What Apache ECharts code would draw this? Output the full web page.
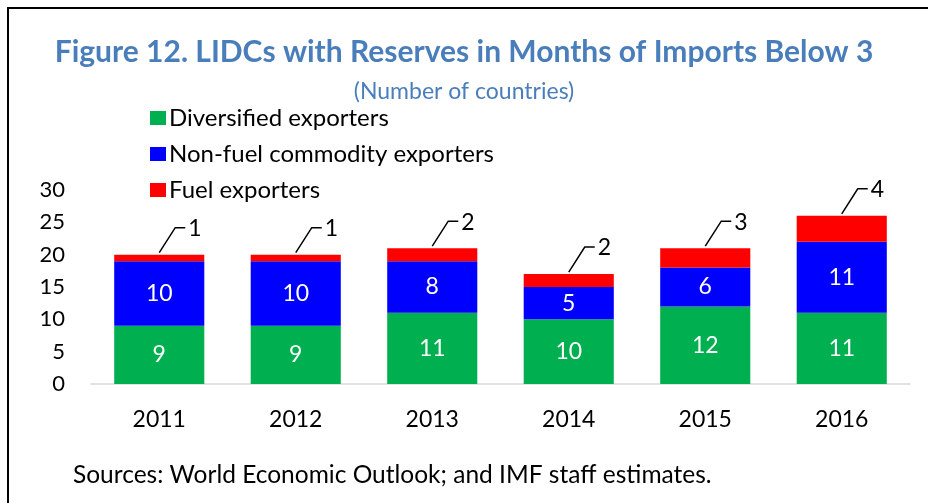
<!DOCTYPE html>
<html>
<head>
<meta charset="utf-8">
<script src="https://cdn.jsdelivr.net/npm/echarts@6/dist/echarts.min.js"></script>
<style>
  html, body { margin: 0; padding: 0; background: #fff; }
  #chart { width: 928px; height: 503px; }
</style>
</head>
<body>
<div id="chart"></div>
<script>
// data
var years = ["2011", "2012", "2013", "2014", "2015", "2016"];
var diversified = [9, 9, 11, 10, 12, 11];
var nonFuel = [10, 10, 8, 5, 6, 11];
var fuel = [1, 1, 2, 2, 3, 4];
var yTicks = [0, 5, 10, 15, 20, 25, 30];

(function () {
  var myChart = echarts.init(document.getElementById('chart'));
  var font = 'Lato, "Noto Sans", sans-serif';
  var titleBlue = '#4A7EBB';

  // top of each stacked bar, used to place the fuel labels
  var fuelLabelData = years.map(function (y, i) {
    return [i, diversified[i] + nonFuel[i] + fuel[i], fuel[i]];
  });

  var option = {
    backgroundColor: '#fff',
    animation: false,
    title: [
      {
        text: 'Figure 12. LIDCs with Reserves in Months of Imports Below 3',
        left: 'center',
        top: 32,
        textStyle: { color: titleBlue, fontFamily: font, fontSize: 30, fontWeight: 'bold' }
      },
      {
        text: '(Number of countries)',
        left: 'center',
        top: 75,
        textStyle: { color: titleBlue, fontFamily: font, fontSize: 23, fontWeight: 'normal' }
      },
      {
        text: 'Sources: World Economic Outlook; and IMF staff estimates.',
        left: 68,
        top: 458,
        textStyle: { color: '#000', fontFamily: font, fontSize: 24.5, fontWeight: 'normal' }
      }
    ],
    legend: {
      orient: 'vertical',
      left: 145,
      top: 101,
      itemWidth: 16,
      itemHeight: 14,
      itemGap: 12,
      icon: 'rect',
      data: ['Diversified exporters', 'Non-fuel commodity exporters', 'Fuel exporters'],
      textStyle: { color: '#000', fontFamily: font, fontSize: 24, lineHeight: 24, padding: [0, 0, 0, -2] }
    },
    grid: {
      left: 91,
      right: 18,
      top: 190,
      bottom: 119
    },
    xAxis: {
      type: 'category',
      data: years,
      axisTick: { show: false },
      axisLine: { lineStyle: { color: '#D9D9D9', width: 1.5 } },
      axisLabel: { color: '#000', fontFamily: font, fontSize: 23, margin: 24 }
    },
    yAxis: {
      type: 'value',
      min: yTicks[0],
      max: yTicks[yTicks.length - 1],
      interval: 5,
      axisLine: { show: false },
      axisTick: { show: false },
      splitLine: { show: false },
      axisLabel: { color: '#000', fontFamily: font, fontSize: 22, margin: 26 }
    },
    series: [
      {
        name: 'Diversified exporters',
        type: 'bar',
        stack: 'total',
        barWidth: '66%',
        data: diversified,
        itemStyle: { color: '#00B050' },
        label: { show: true, position: 'inside', color: '#fff', fontFamily: font, fontSize: 23 }
      },
      {
        name: 'Non-fuel commodity exporters',
        type: 'bar',
        stack: 'total',
        data: nonFuel,
        itemStyle: { color: '#0000FF' },
        label: { show: true, position: 'inside', color: '#fff', fontFamily: font, fontSize: 23 }
      },
      {
        name: 'Fuel exporters',
        type: 'bar',
        stack: 'total',
        data: fuel,
        itemStyle: { color: '#FF0000' }
      },
      {
        // labels with leader lines for fuel exporters
        name: 'fuelLabels',
        type: 'custom',
        data: fuelLabelData,
        silent: true,
        z: 5,
        renderItem: function (params, api) {
          var pt = api.coord([api.value(0), api.value(1)]);
          var x = pt[0], y = pt[1];
          return {
            type: 'group',
            children: [
              {
                type: 'polyline',
                shape: { points: [[x, y - 2], [x + 16, y - 27], [x + 26, y - 27]] },
                style: { stroke: '#000', lineWidth: 1.5, fill: null }
              },
              {
                type: 'text',
                style: {
                  text: String(api.value(2)),
                  x: x + 29,
                  y: y - 26,
                  verticalAlign: 'middle',
                  align: 'left',
                  fill: '#000',
                  fontFamily: font,
                  fontSize: 23
                }
              }
            ]
          };
        }
      }
    ],
    graphic: [
      {
        type: 'polyline',
        shape: { points: [[8, 503], [8, 8], [928, 8]] },
        style: { stroke: '#000', lineWidth: 2, fill: null }
      }
    ]
  };

  myChart.setOption(option);
  window.addEventListener('resize', function () {
    myChart.resize();
  });
})();
</script>
</body>
</html>
